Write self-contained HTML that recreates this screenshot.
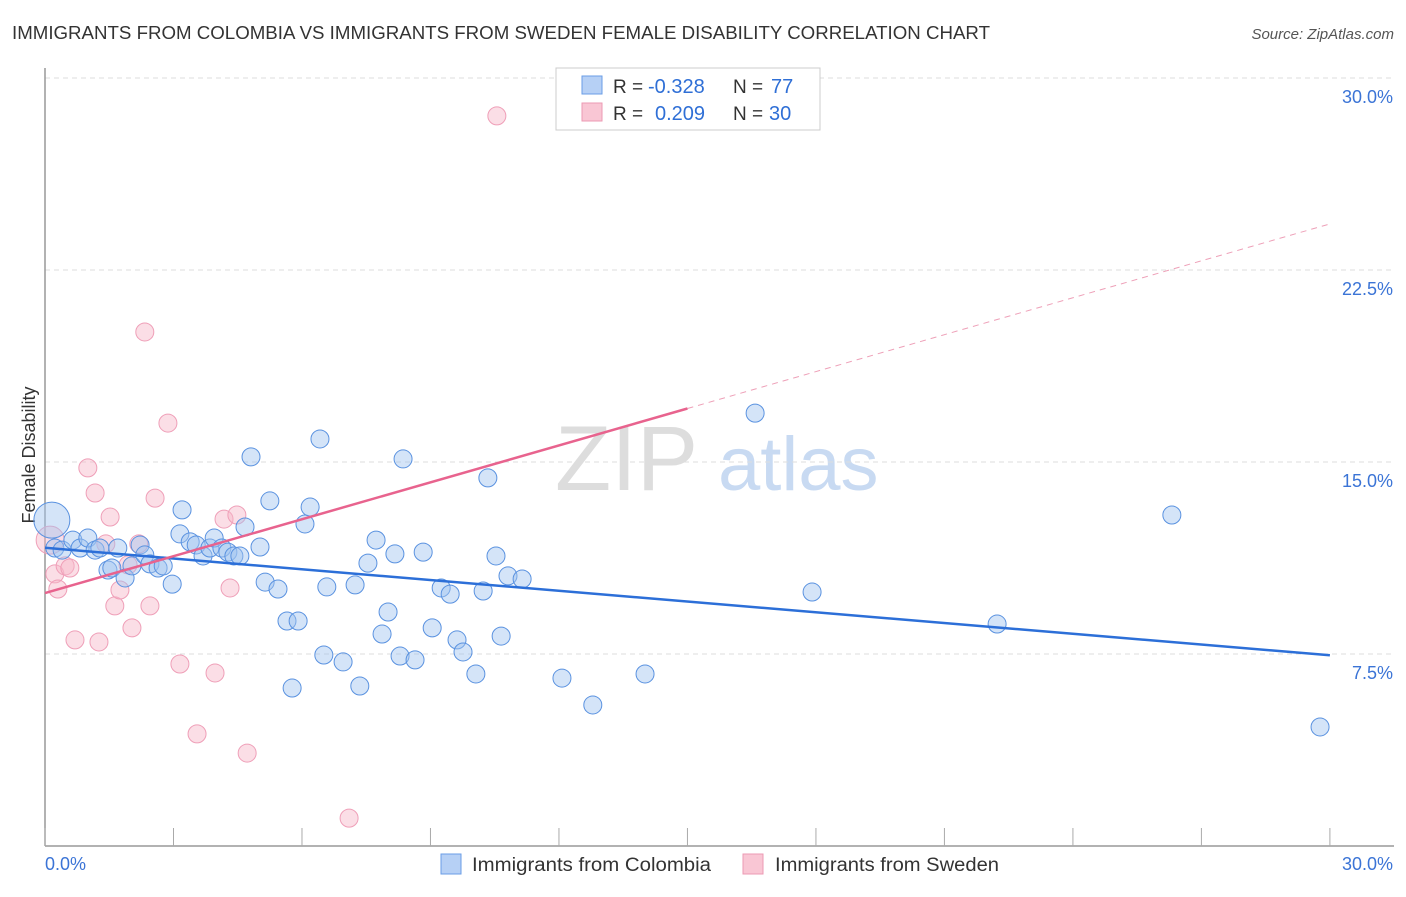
<!DOCTYPE html>
<html><head><meta charset="utf-8"><style>
body{margin:0;background:#fff;font-family:"Liberation Sans",sans-serif}
svg text{font-family:"Liberation Sans",sans-serif}
</style></head><body>
<svg id="c" width="1406" height="892">
<text x="12" y="39" font-size="18" fill="#333" textLength="978" lengthAdjust="spacingAndGlyphs">IMMIGRANTS FROM COLOMBIA VS IMMIGRANTS FROM SWEDEN FEMALE DISABILITY CORRELATION CHART</text>
<text x="1394" y="39" font-size="15" fill="#555" text-anchor="end" font-style="italic">Source: ZipAtlas.com</text>
<text x="35" y="455" font-size="18" fill="#333" text-anchor="middle" transform="rotate(-90 35 455)">Female Disability</text>
<g><text x="555" y="490" font-size="92" fill="#ddd" font-family="Liberation Serif">ZIP</text><text x="718" y="490" font-size="76" fill="#c8daf2">atlas</text></g>
<g id="grid"></g><g id="pts"></g><g id="lines"></g>
<g>
<rect x="556" y="68" width="264" height="62" fill="#fff" stroke="#ccc"/>
<rect x="582" y="76" width="20" height="18" fill="#b6d0f5" stroke="#6a9de6"/>
<rect x="582" y="103" width="20" height="18" fill="#f9c6d4" stroke="#ec9ab3"/>
<text x="613" y="93" font-size="19" fill="#333">R =</text>
<text x="648" y="93" font-size="20" fill="#2f6fd6">-0.328</text>
<text x="733" y="93" font-size="19" fill="#333">N =</text>
<text x="771" y="93" font-size="20" fill="#2f6fd6">77</text>
<text x="613" y="120" font-size="19" fill="#333">R =</text>
<text x="655" y="120" font-size="20" fill="#2f6fd6">0.209</text>
<text x="733" y="120" font-size="19" fill="#333">N =</text>
<text x="769" y="120" font-size="20" fill="#2f6fd6">30</text>
</g>
<g>
<rect x="441" y="854" width="20" height="20" fill="#b6d0f5" stroke="#6a9de6"/>
<text x="472" y="871" font-size="19" fill="#333" textLength="239" lengthAdjust="spacingAndGlyphs">Immigrants from Colombia</text>
<rect x="743" y="854" width="20" height="20" fill="#f9c6d4" stroke="#ec9ab3"/>
<text x="775" y="871" font-size="19" fill="#333" textLength="224" lengthAdjust="spacingAndGlyphs">Immigrants from Sweden</text>
</g>
</svg>
<script>
const blueXY=[[52,520],[55,548],[62,550],[73,540],[80,548],[88,538],[95,550],[100,548],[108,570],[112,568],[118,548],[125,578],[132,566],[140,545],[145,555],[150,564],[158,568],[163,566],[172,584],[180,534],[182,510],[190,542],[196,545],[203,556],[210,548],[214,538],[222,548],[228,552],[234,556],[240,556],[245,527],[251,457],[260,547],[265,582],[270,501],[278,589],[287,621],[292,688],[298,621],[305,524],[310,507],[320,439],[324,655],[327,587],[343,662],[355,585],[360,686],[368,563],[376,540],[382,634],[388,612],[395,554],[400,656],[403,459],[415,660],[423,552],[432,628],[441,588],[450,594],[457,640],[463,652],[476,674],[483,591],[488,478],[496,556],[501,636],[508,576],[522,579],[562,678],[593,705],[645,674],[755,413],[812,592],[997,624],[1172,515],[1320,727]];
const pinkXY=[[50,540],[55,574],[58,589],[65,566],[70,568],[75,640],[88,468],[95,493],[99,642],[106,544],[110,517],[115,606],[120,590],[128,565],[132,628],[139,544],[145,332],[150,606],[155,498],[168,423],[180,664],[197,734],[215,673],[224,519],[230,588],[237,515],[247,753],[349,818],[497,116]];
const colombiaX=blueXY.map(p=>+((p[0]-45)/42.83).toFixed(2));
const colombiaY=blueXY.map(p=>+((846-p[1])/25.6).toFixed(2));
const swedenX=pinkXY.map(p=>+((p[0]-45)/42.83).toFixed(2));
const swedenY=pinkXY.map(p=>+((846-p[1])/25.6).toFixed(2));
const yTicks=[7.5,15,22.5,30];
const yTickLabels=["7.5%","15.0%","22.5%","30.0%"];
const colombiaTrend=[11.65,7.45];
const swedenTrend=[9.88,24.3];
const X=v=>45+v*42.83, Y=v=>846-v*25.6;
const NS="http://www.w3.org/2000/svg";
function mk(t,a,parent){const e=document.createElementNS(NS,t);for(const k in a)e.setAttribute(k,a[k]);parent.appendChild(e);return e;}
const grid=document.getElementById('grid');
yTicks.forEach((t,i)=>{
 const l=mk('line',{x1:45,x2:1394,y1:Y(t),y2:Y(t),stroke:'#ddd','stroke-dasharray':'5,4'},grid);
 
 
 const tx=mk('text',{x:1393,y:Y(t)+25,'font-size':18,fill:'#3b74d6','text-anchor':'end'},grid);
 tx.textContent=yTickLabels[i];
 
 
});
const ax=mk('line',{x1:45,x2:45,y1:68,y2:846,stroke:'#999','stroke-width':1.5},grid);


const bx=mk('line',{x1:45,x2:1394,y1:846,y2:846,stroke:'#999','stroke-width':1.5},grid);


for(let i=0;i<=10;i++){const t=mk('line',{x1:X(i*3),x2:X(i*3),y1:828,y2:846,stroke:'#aaa'},grid);
 
 }
[["0.0%",45,"start"],["30.0%",1393,"end"]].forEach(a=>{const t=mk('text',{x:a[1],y:870,'font-size':18,fill:'#3b74d6','text-anchor':a[2]},grid);t.textContent=a[0];
 
 });
const pts=document.getElementById('pts');
swedenX.forEach((x,i)=>{const c=mk('circle',{cx:X(x),cy:Y(swedenY[i]),r:i==0?14:9,fill:'rgba(246,182,200,0.45)',stroke:'#ef9fb8','stroke-width':1},pts);
 
 });
colombiaX.forEach((x,i)=>{const c=mk('circle',{cx:X(x),cy:Y(colombiaY[i]),r:i==0?18:9,fill:'rgba(160,195,240,0.45)',stroke:'#5a92e0','stroke-width':1},pts);
 
 });
const lines=document.getElementById('lines');
const b=mk('line',{x1:X(0),y1:Y(colombiaTrend[0]),x2:X(30),y2:Y(colombiaTrend[1]),stroke:'#2c6fd8','stroke-width':2.5},lines);


const sy=x=>swedenTrend[0]+(swedenTrend[1]-swedenTrend[0])*x/30;
const p1=mk('line',{x1:X(0),y1:Y(sy(0)),x2:X(15),y2:Y(sy(15)),stroke:'#e8638e','stroke-width':2.5},lines);


const p2=mk('line',{x1:X(15),y1:Y(sy(15)),x2:X(30),y2:Y(sy(30)),stroke:'#eea0b8','stroke-width':1,'stroke-dasharray':'6,5'},lines);


</script>
</body></html>
